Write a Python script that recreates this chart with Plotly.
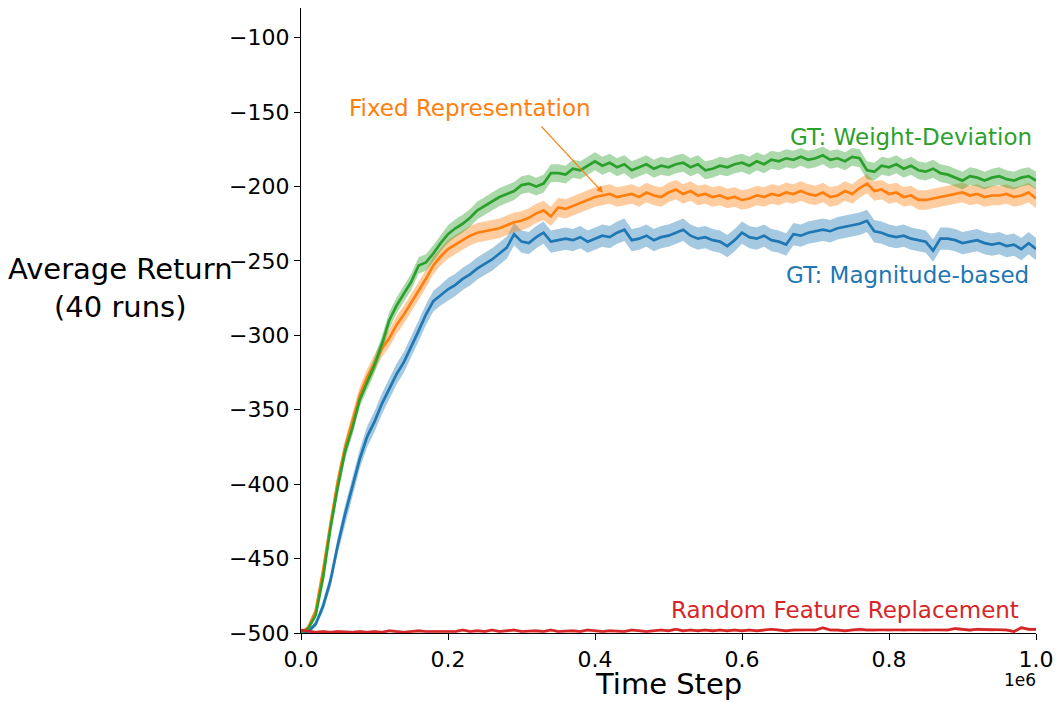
import plotly.graph_objects as go

steps = [i * 10000 for i in range(101)]

weight_dev = [-500, -497, -488, -463, -430, -402, -378, -362, -343, -332,
              -320, -306, -290, -280, -272, -264, -253, -251, -245, -238,
              -232, -228, -225, -221, -216, -213, -210, -207, -205, -203,
              -199, -198, -200, -198, -191, -191, -192, -188, -189, -186,
              -183, -186, -184, -187, -185, -189, -187, -185, -188, -186,
              -187, -185, -184, -187, -185, -189, -188, -186, -187, -185,
              -184, -186, -183, -185, -182, -183, -181, -182, -180, -182,
              -181, -179, -182, -181, -183, -180, -181, -189, -190, -186,
              -187, -185, -188, -186, -189, -190, -188, -191, -192, -194,
              -196, -193, -194, -196, -194, -193, -195, -196, -194, -193,
              -196]
weight_dev_se = [0, 1, 2, 3, 4, 4.5, 5, 5, 5, 5,
                 5.5, 5.5, 5.5, 5.5, 5.5, 5.5, 5.5, 5.5, 5.5, 5.5,
                 6, 6, 6, 6, 6, 6, 6, 6, 6, 6,
                 6, 6, 6, 6, 6, 6, 6, 6, 6, 6,
                 6, 6, 6, 6, 6, 6, 6, 6, 6, 6,
                 6, 6, 6, 6, 6, 6, 6, 6, 6, 6,
                 6, 6, 6, 6, 6, 6, 6, 6, 6, 6,
                 6, 6, 6, 6, 6, 6, 6, 6, 6, 6,
                 6, 6, 6, 6, 6, 6, 6, 6, 6, 6,
                 6, 6, 6, 6, 6, 6, 6, 6, 6, 6,
                 6]

fixed_rep = [-500, -496, -485, -458, -427, -398, -375, -357, -340, -328,
             -319, -309, -302, -293, -286, -278, -270, -262, -253, -247,
             -242, -239, -236, -233, -231, -230, -229, -228, -226, -224,
             -223, -221, -218, -216, -220, -214, -215, -213, -211, -209,
             -207, -206, -205, -207, -206, -205, -207, -204, -206, -207,
             -204, -202, -205, -203, -206, -205, -207, -206, -208, -207,
             -209, -208, -206, -207, -205, -206, -204, -205, -203, -205,
             -206, -204, -207, -206, -203, -205, -201, -198, -203, -202,
             -205, -204, -207, -206, -209, -209, -208, -207, -206, -205,
             -204, -206, -205, -207, -206, -206, -205, -207, -206, -204,
             -208]
fixed_rep_se = [0, 1, 2, 3, 4, 4.5, 5, 5, 5.5, 5.5,
                5.5, 5.5, 6, 6, 6, 6, 6, 6, 6, 6,
                6.5, 6.5, 6.5, 6.5, 6.5, 6.5, 6.5, 6.5, 6.5, 6.5,
                6.5, 6.5, 6.5, 6.5, 6.5, 6.5, 6.5, 6.5, 6.5, 6.5,
                6.5, 6.5, 6.5, 6.5, 6.5, 6.5, 6.5, 6.5, 6.5, 6.5,
                6.5, 6.5, 6.5, 6.5, 6.5, 6.5, 6.5, 6.5, 6.5, 6.5,
                6.5, 6.5, 6.5, 6.5, 6.5, 6.5, 6.5, 6.5, 6.5, 6.5,
                6.5, 6.5, 6.5, 6.5, 6.5, 6.5, 6.5, 6.5, 6.5, 6.5,
                6.5, 6.5, 6.5, 6.5, 6.5, 6.5, 6.5, 6.5, 6.5, 6.5,
                6.5, 6.5, 6.5, 6.5, 6.5, 6.5, 6.5, 6.5, 6.5, 6.5,
                6.5]

magnitude = [-500, -499, -494, -482, -465, -441, -420, -402, -383, -368,
             -358, -346, -336, -326, -318, -308, -297, -286, -277, -273,
             -269, -266, -262, -259, -255, -252, -249, -245, -241, -232,
             -237, -238, -234, -231, -237, -236, -235, -236, -234, -237,
             -235, -233, -234, -231, -229, -236, -235, -233, -236, -234,
             -233, -231, -229, -233, -235, -234, -236, -237, -240, -236,
             -231, -234, -235, -233, -236, -237, -239, -232, -233, -231,
             -230, -229, -230, -228, -227, -226, -225, -223, -230, -231,
             -233, -234, -233, -235, -236, -237, -243, -235, -235, -236,
             -238, -237, -236, -238, -239, -238, -240, -239, -242, -238,
             -242]
magnitude_se = [0, 1, 2, 3.5, 4.5, 5.5, 6, 6.5, 6.5, 7,
                7, 7, 7, 7, 7, 7, 7, 7, 7, 7,
                7.5, 7.5, 7.5, 7.5, 7.5, 7.5, 7.5, 7.5, 7.5, 7.5,
                7.5, 7.5, 7.5, 7.5, 7.5, 7.5, 7.5, 7.5, 7.5, 7.5,
                7.5, 7.5, 7.5, 7.5, 7.5, 7.5, 7.5, 7.5, 7.5, 7.5,
                7.5, 7.5, 7.5, 7.5, 7.5, 7.5, 7.5, 7.5, 7.5, 7.5,
                7.5, 7.5, 7.5, 7.5, 7.5, 7.5, 7.5, 7.5, 7.5, 7.5,
                7.5, 7.5, 7.5, 7.5, 7.5, 7.5, 7.5, 7.5, 7.5, 7.5,
                7.5, 7.5, 7.5, 7.5, 7.5, 7.5, 7.5, 7.5, 7.5, 7.5,
                7.5, 7.5, 7.5, 7.5, 7.5, 7.5, 7.5, 7.5, 7.5, 7.5,
                7.5]

random_feat = [-498, -499, -499.5, -499, -499.5, -499, -499.5, -499.5, -499, -499.5,
               -499, -499.5, -498.5, -499, -499.5, -499, -498.5, -499, -499, -498.5,
               -498.5, -499, -498, -499, -498.5, -499, -498, -499, -498.5, -498,
               -499, -498.5, -498.5, -499, -498, -499, -498.5, -498.5, -499, -498,
               -498.5, -499, -498.5, -498.5, -499, -498, -498.5, -499, -498.5, -498,
               -498.5, -497.5, -498.5, -498, -498.5, -498, -498.5, -498, -498.5, -498,
               -498.5, -498, -498.5, -498, -497.5, -498, -498.5, -498, -498, -497.5,
               -498, -496.5, -498, -498, -498.5, -498, -497.5, -498, -498, -497.5,
               -498, -497.5, -498, -497.5, -497.5, -498, -497.5, -497.5, -498, -497,
               -497.5, -498, -497.5, -497.5, -498, -497.5, -498, -499, -496.5, -497.5,
               -497.5]
random_feat_se = [1] * 101

x_tick_vals = [0, 200000, 400000, 600000, 800000, 1000000]
x_tick_text = ["0.0", "0.2", "0.4", "0.6", "0.8", "1.0"]
y_tick_vals = [-500, -450, -400, -350, -300, -250, -200, -150, -100]

series = [
    ("GT: Magnitude-based", magnitude, magnitude_se, "#1f77b4", "rgba(31,119,180,0.4)"),
    ("Fixed Representation", fixed_rep, fixed_rep_se, "#ff7f0e", "rgba(255,127,14,0.4)"),
    ("GT: Weight-Deviation", weight_dev, weight_dev_se, "#2ca02c", "rgba(44,160,44,0.4)"),
    ("Random Feature Replacement", random_feat, random_feat_se, "#d62728", "rgba(214,39,40,0.4)"),
]

fig = go.Figure()
for name, ys, se, col, fill in series:
    upper = [v + s for v, s in zip(ys, se)]
    lower = [v - s for v, s in zip(ys, se)]
    fig.add_trace(go.Scatter(x=steps + steps[::-1], y=upper + lower[::-1],
                             fill="toself", fillcolor=fill, line=dict(width=0),
                             hoverinfo="skip", showlegend=False, mode="lines"))
for name, ys, se, col, fill in series:
    fig.add_trace(go.Scatter(x=steps, y=ys, mode="lines", name=name,
                             line=dict(color=col, width=2.7), showlegend=False))

font = "DejaVu Sans, Liberation Sans, sans-serif"
fig.update_layout(
    width=1056, height=702,
    margin=dict(l=301, r=20, t=8, b=69),
    paper_bgcolor="white", plot_bgcolor="white",
    font=dict(family=font, size=22, color="black"),
    xaxis=dict(range=[0, 1000000], tickvals=x_tick_vals, ticktext=x_tick_text,
               showgrid=False, zeroline=False, showline=True, linecolor="black",
               linewidth=1.3, ticks="outside", ticklen=6, tickwidth=1.3,
               tickcolor="black", tickfont=dict(size=22), automargin=False),
    yaxis=dict(range=[-500, -80], tickvals=y_tick_vals,
               showgrid=False, zeroline=False, showline=True, linecolor="black",
               linewidth=1.3, ticks="outside", ticklen=6, tickwidth=1.3,
               tickcolor="black", tickfont=dict(size=22), automargin=False),
)

ann = [
    dict(text="Average Return<br>(40 runs)", xref="paper", yref="paper",
         x=-0.246, y=0.552, xanchor="center", yanchor="middle",
         showarrow=False, font=dict(size=29)),
    dict(text="Time Step", xref="paper", yref="paper", x=0.5, y=-0.082,
         xanchor="center", yanchor="middle", showarrow=False, font=dict(size=29)),
    dict(text="1e6", xref="paper", yref="paper", x=0.978, y=-0.075,
         xanchor="center", yanchor="middle", showarrow=False, font=dict(size=17)),
    dict(text="GT: Weight-Deviation", x=997000, y=-166.6, xanchor="right",
         yanchor="middle", showarrow=False, font=dict(size=23, color="#2ca02c")),
    dict(text="GT: Magnitude-based", x=993000, y=-259.3, xanchor="right",
         yanchor="middle", showarrow=False, font=dict(size=23, color="#1f77b4")),
    dict(text="Random Feature Replacement", x=980000, y=-484.5, xanchor="right",
         yanchor="middle", showarrow=False, font=dict(size=23, color="#d62728")),
    dict(text="Fixed Representation", x=230000, y=-147, xanchor="center",
         yanchor="middle", showarrow=False, font=dict(size=23, color="#ff7f0e")),
    dict(text="", x=411000, y=-204.2, ax=325000, ay=-158.5, axref="x", ayref="y",
         showarrow=True, arrowhead=2, arrowsize=1, arrowwidth=1.3,
         arrowcolor="#ff7f0e"),
]
fig.update_layout(annotations=ann)

fig.write_html("out.html")
